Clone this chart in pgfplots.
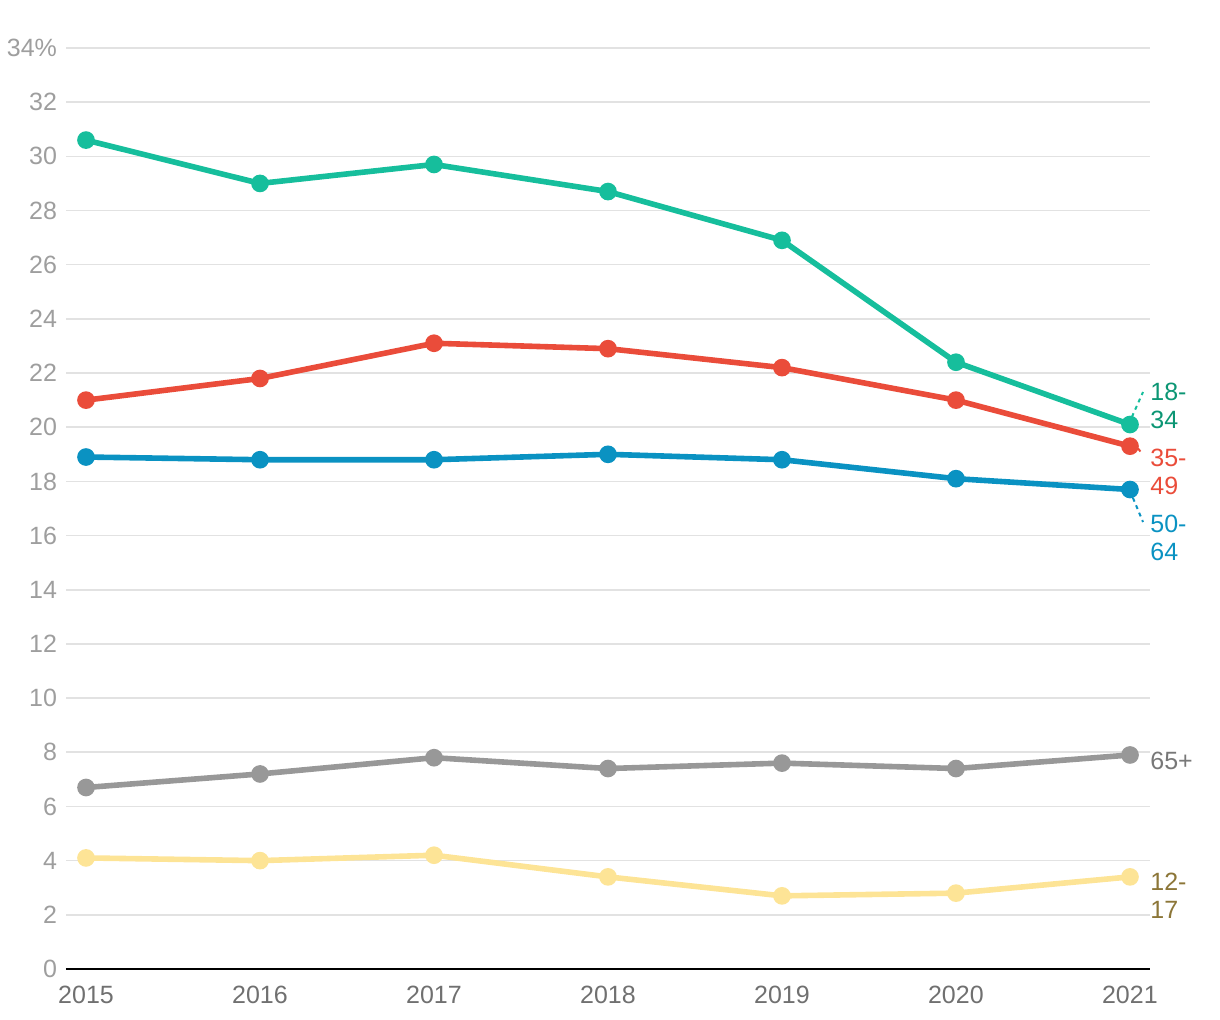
\documentclass[border=0pt]{standalone}
\usepackage{fontspec}
\setmainfont{Liberation Sans}
\usepackage{pgfplots}
\pgfplotsset{compat=1.18}

\definecolor{cteal}{RGB}{22,190,156}
\definecolor{ctealtxt}{RGB}{12,150,116}
\definecolor{cred}{RGB}{234,76,58}
\definecolor{cblue}{RGB}{10,146,194}
\definecolor{cgrey}{RGB}{152,152,152}
\definecolor{cgreytxt}{RGB}{120,120,120}
\definecolor{cyellow}{RGB}{253,228,150}
\definecolor{cyellowtxt}{RGB}{140,118,56}
\definecolor{gridgrey}{RGB}{226,226,226}
\definecolor{ticky}{RGB}{158,158,158}
\definecolor{tickx}{RGB}{112,112,112}

\begin{document}
\begin{tikzpicture}
\useasboundingbox (0pt,0pt) rectangle (610pt,510pt);
\begin{axis}[
  at={(33pt,25.5pt)}, anchor=south west,
  scale only axis,
  width=542pt, height=460.5pt,
  xmin=2014.885, xmax=2021.115,
  ymin=0, ymax=34,
  xtick={2015,...,2021},
  ytick={0,2,...,34},
  yticklabels={0,2,4,6,8,10,12,14,16,18,20,22,24,26,28,30,32,34\%},
  /pgf/number format/assume math mode=true,
  xticklabel style={/pgf/number format/1000 sep={}, text=tickx, font=\fontsize{12.5}{14}\selectfont},
  yticklabel style={text=ticky, font=\fontsize{12.5}{14}\selectfont},
  x tick label style={yshift=-5pt},
  y tick label style={xshift=-1pt},
  axis x line*=bottom,
  axis y line*=left,
  y axis line style={draw=none},
  x axis line style={line width=1pt, black, -},
  ymajorgrids,
  grid style={gridgrey, line width=0.8pt},
  major tick length=0pt,
  clip=false,
  every axis plot/.append style={line width=2.8pt, mark=*, mark size=3pt, mark options={solid}},
]
\addplot[cteal] coordinates {(2015,30.6) (2016,29.0) (2017,29.7) (2018,28.7) (2019,26.9) (2020,22.4) (2021,20.1)};
\addplot[cred] coordinates {(2015,21.0) (2016,21.8) (2017,23.1) (2018,22.9) (2019,22.2) (2020,21.0) (2021,19.3)};
\addplot[cblue] coordinates {(2015,18.9) (2016,18.8) (2017,18.8) (2018,19.0) (2019,18.8) (2020,18.1) (2021,17.7)};
\addplot[cgrey] coordinates {(2015,6.7) (2016,7.2) (2017,7.8) (2018,7.4) (2019,7.6) (2020,7.4) (2021,7.9)};
\addplot[cyellow] coordinates {(2015,4.1) (2016,4.0) (2017,4.2) (2018,3.4) (2019,2.7) (2020,2.8) (2021,3.4)};

% leader lines
\draw[cteal, line width=1pt, dash pattern=on 2pt off 2pt] (axis cs:2021.011,20.38) -- (axis cs:2021.075,21.30);
\draw[cred, line width=1pt, dash pattern=on 2pt off 2pt] (axis cs:2021.017,19.45) -- (axis cs:2021.063,19.08);
\draw[cblue, line width=1pt, dash pattern=on 2pt off 2pt] (axis cs:2021.017,17.39) -- (axis cs:2021.075,16.50);

% series labels
\tikzset{lbl/.style={anchor=west, align=left, inner sep=0pt, font=\fontsize{12.5}{14}\selectfont}}
\node[lbl, text=ctealtxt] at (axis cs:2021.115,20.78) {18-\\34};
\node[lbl, text=cred] at (axis cs:2021.115,18.35) {35-\\49};
\node[lbl, text=cblue] at (axis cs:2021.115,15.91) {50-\\64};
\node[lbl, text=cgreytxt] at (axis cs:2021.115,7.68) {65+};
\node[lbl, text=cyellowtxt] at (axis cs:2021.115,2.69) {12-\\17};
\end{axis}
\end{tikzpicture}
\end{document}
